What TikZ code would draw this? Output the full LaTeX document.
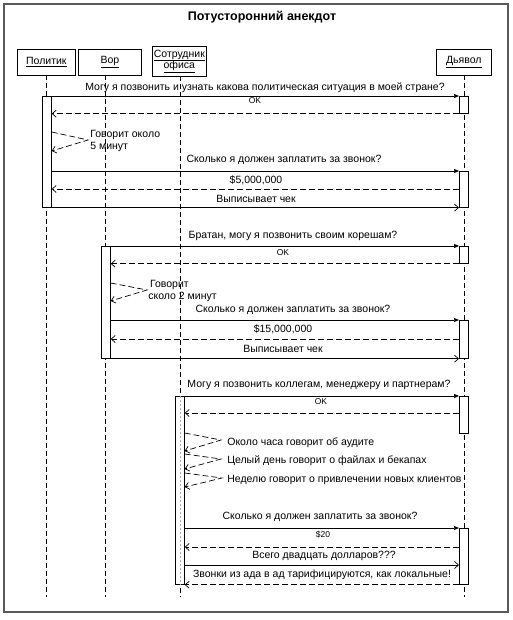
\documentclass[tikz,border=0pt]{standalone}
\usepackage{fontspec}
\setmainfont{Liberation Sans}
\usetikzlibrary{arrows.meta}
\begin{document}
\begin{tikzpicture}[x=1pt,y=-1pt, line width=0.7pt,
  hdr/.style={draw, fill=white, inner sep=0, minimum height=26pt, anchor=north west, align=center, font=\fontsize{10.5}{11.5}\selectfont},
  act/.style={draw, fill=white, inner sep=0, minimum width=9pt, anchor=north west},
  life/.style={dash pattern=on 5pt off 3pt},
  call/.style={-{Triangle[length=5pt,width=4pt]}},
  ret/.style={dash pattern=on 6pt off 3pt, -{Straight Barb[length=4pt,width=7pt]}},
  fwd/.style={-{Straight Barb[length=4pt,width=7pt]}},
  lbl/.style={font=\fontsize{10.5}{12}\selectfont, inner sep=0},
  sml/.style={font=\fontsize{8.5}{10}\selectfont, inner sep=0},
  note/.style={font=\fontsize{10.5}{12}\selectfont, inner sep=0, anchor=west, align=left},
]
\useasboundingbox (0,0) rectangle (513,620);
\draw[gray!70!black, line width=1.3pt] (4,4) rectangle (508,612);
\node[font=\bfseries\fontsize{12.5}{14}\selectfont] (title) at (262,17) {Потусторонний анекдот};

% headers
\node[hdr, minimum width=58pt] (hp) at (17,49) {\underline{Политик}};
\node[hdr, minimum width=63pt] (hv) at (78,49) {\underline{Вор}};
\node[hdr, minimum width=54pt, minimum height=30pt] (hs) at (152,46) {\underline{Сотрудник}\\[-1pt]\underline{офиса}};
\node[hdr, minimum width=55pt] (hd) at (436,49) {\underline{Дьявол}};

% lifelines
\coordinate (lpT) at (46,75);  \coordinate (lpB) at (46,597);
\coordinate (lvT) at (105,75); \coordinate (lvB) at (105,597);
\coordinate (lsT) at (180,76); \coordinate (lsB) at (180,597);
\coordinate (ldT) at (464,75); \coordinate (ldB) at (464,597);
\draw[life] (lpT) -- (lpB);
\draw[life] (lvT) -- (lvB);
\draw[life] (lsT) -- (lsB);
\draw[life] (ldT) -- (ldB);

% activations
\node[act, minimum height=111pt] (pa) at (42,96) {};
\node[act, minimum height=17pt] (da1) at (459,96) {};
\node[act, minimum height=36pt] (da2) at (459,171) {};
\node[act, minimum height=112pt] (va) at (101,246) {};
\node[act, minimum height=17pt] (da3) at (459,246) {};
\node[act, minimum height=38pt] (da4) at (459,320) {};
\node[act, minimum height=188pt] (sa) at (175,396) {};
\draw[gray!60, line width=0.4pt, dash pattern=on 2pt off 2pt] (sa.north) -- (sa.south);
\node[act, minimum height=37pt] (da5) at (459,396) {};
\node[act, minimum height=56pt] (da6) at (459,528) {};

% block 1
\node[lbl] (t1) at (265,88) {Могу я позвонить и узнать какова политическая ситуация в моей стране?};
\draw[call] (pa.north east) -- (da1.north west);
\node[sml] (t2) at (255,101) {OK};
\draw[ret] (da1.south west) -- (pa.east |- da1.south west);
\draw[ret] (pa.east |- 0,132) -- (88,140) -- (pa.east |- 0,151);
\node[note] (t3) at (90,141) {Говорит около\\5 минут};
\node[lbl] (t4) at (284,160) {Сколько я должен заплатить за звонок?};
\draw[call] (pa.east |- da2.north west) -- (da2.north west);
\node[lbl] (t5) at (256,180) {\$5,000,000};
\draw[ret] (da2.west |- 0,189) -- (pa.east |- 0,189);
\node[lbl] (t6) at (256,199) {Выписывает чек};
\draw[fwd] (pa.south east) -- (da2.south west);

% block 2
\node[lbl] (t7) at (293,236) {Братан, могу я позвонить своим корешам?};
\draw[call] (va.north east) -- (da3.north west);
\node[sml] (t8) at (283,253) {OK};
\draw[ret] (da3.south west) -- (va.east |- da3.south west);
\draw[ret] (va.east |- 0,283) -- (147,290) -- (va.east |- 0,301);
\node[note] (t9) at (148,291) {\,Говорит\\сколо 2 минут};
\node[lbl] (t10) at (293,310) {Сколько я должен заплатить за звонок?};
\draw[call] (va.east |- da4.north west) -- (da4.north west);
\node[lbl] (t11) at (283,329) {\$15,000,000};
\draw[ret] (da4.west |- 0,339) -- (va.east |- 0,339);
\node[lbl] (t12) at (283,349) {Выписывает чек};
\draw[fwd] (va.south east) -- (da4.south west);

% block 3
\node[lbl] (t13) at (319,385) {Могу я позвонить коллегам, менеджеру и партнерам?};
\draw[call] (sa.north east) -- (da5.north west);
\node[sml] (t14) at (321,402) {OK};
\draw[ret] (da5.west |- 0,413) -- (sa.east |- 0,413);
\draw[ret] (sa.east |- 0,433) -- (221,440) -- (sa.east |- 0,451);
\draw[ret] (sa.east |- 0,454) -- (221,459) -- (sa.east |- 0,469);
\draw[ret] (sa.east |- 0,473) -- (222,478) -- (sa.east |- 0,487);
\node[note] (t15) at (227,443) {Около часа говорит об аудите};
\node[note] (t16) at (227,461) {Целый день говорит о файлах и бекапах};
\node[note] (t17) at (227,480) {Неделю говорит о привлечении новых клиентов};
\node[lbl] (t18) at (320,517) {Сколько я должен заплатить за звонок?};
\draw[call] (sa.east |- da6.north west) -- (da6.north west);
\node[sml] (t19) at (323,535) {\$20};
\draw[ret] (da6.west |- 0,547) -- (sa.east |- 0,547);
\node[lbl] (t20) at (324,556) {Всего двадцать долларов???};
\draw[fwd] (sa.east |- 0,565) -- (da6.west |- 0,565);
\node[lbl] (t21) at (322,575) {Звонки из ада в ад тарифицируются, как локальные!};
\draw[ret] (da6.south west) -- (sa.south east);
\end{tikzpicture}
\end{document}
